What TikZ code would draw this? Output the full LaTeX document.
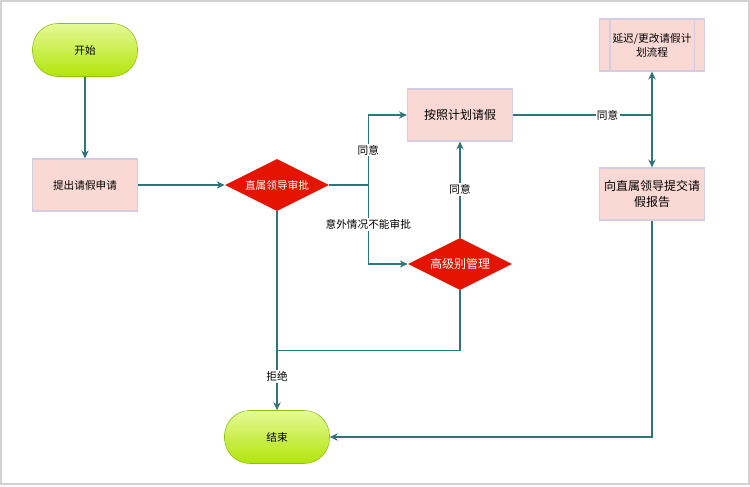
\documentclass[tikz,border=0pt]{standalone}
\usepackage{fontspec}
\newfontfamily\cjk{Noto Sans CJK SC}
\usetikzlibrary{positioning, shapes.geometric, arrows.meta}
\usepackage{xcolor}
\definecolor{flowline}{RGB}{50,116,122}
\definecolor{boxfill}{RGB}{250,217,213}
\definecolor{boxedge}{RGB}{212,204,228}
\definecolor{decfill}{RGB}{229,20,0}
\definecolor{termtop}{RGB}{228,250,150}
\definecolor{termbottom}{RGB}{178,228,10}
\definecolor{termedge}{RGB}{140,190,20}
\definecolor{framegray}{RGB}{210,210,210}

\begin{document}
\begin{tikzpicture}[>={Stealth[length=6pt,width=5.5pt]}, on grid,
    font=\cjk\fontsize{8pt}{10.5pt}\selectfont,
    big/.style={font=\cjk\fontsize{9pt}{12pt}\selectfont},
    terminal/.style={draw=termedge, top color=termtop, bottom color=termbottom,
        rounded corners=19pt, minimum width=78.75pt, minimum height=39.75pt, inner sep=0pt},
    process/.style={draw=boxedge, fill=boxfill, line width=0.8pt, align=center,
        minimum width=78.75pt, minimum height=39pt, inner sep=0pt},
    decision/.style={diamond, aspect=2, fill=decfill, text=white,
        minimum width=78pt, minimum height=39pt, inner sep=0pt},
    flow/.style={draw=flowline, line width=1pt},
    lbl/.style={fill=white, inner sep=1pt}]
    \useasboundingbox (0,0) rectangle (562.5pt,-364.5pt);
    \draw[framegray, line width=1.5pt] (0.75pt,-0.75pt) rectangle (561.5pt,-363pt);

    \node[terminal] (start) at (63.75pt,-37.5pt) {开始};
    \node[process] (apply) [below=101.25pt of start] {提出请假申请};
    \node[decision] (direct) [right=144pt of apply] {直属领导审批};
    \node[process, big] (plan) [above right=52.5pt and 137.25pt of direct] {按照计划请假};
    \node[decision, big] (senior) [below=111.75pt of plan] {高级别管理};
    \node[process] (delay) [above right=52.5pt and 144pt of plan] {延迟/更改请假计\\划流程};
    \node[process, big] (report) [below=111.75pt of delay] {向直属领导提交请\\假报告};
    \node[terminal] (stop) [below=189pt of direct] {结束};
    \draw[boxedge, line width=0.8pt]
        ([xshift=8.25pt]delay.north west) -- ([xshift=8.25pt]delay.south west)
        ([xshift=-8.25pt]delay.north east) -- ([xshift=-8.25pt]delay.south east);

    \coordinate[right=29.25pt of direct.east] (fork);
    \coordinate (hub) at (delay |- plan);
    \coordinate[below=45pt of senior.south] (drop);

    \draw[flow, ->] (start) -- (apply);
    \draw[flow, ->] (apply) -- (direct);
    \draw[flow, ->] (direct.east) -- (fork) |- (plan.west) node[lbl, pos=0.25] {同意};
    \draw[flow, ->] (fork) |- (senior.west) node[lbl, pos=0.25] {意外情况不能审批};
    \draw[flow, ->] (senior) -- (plan) node[lbl, midway] {同意};
    \draw[flow] (senior.south) -- (drop) -- (drop -| direct);
    \draw[flow, ->] (direct) -- (stop) node[lbl, pos=0.83] {拒绝};
    \draw[flow] (plan) -- (hub) node[lbl, pos=0.68] {同意};
    \draw[flow, ->] (hub) -- (delay);
    \draw[flow, ->] (hub) -- (report);
    \draw[flow, ->] (report) |- (stop);
\end{tikzpicture}
\end{document}
